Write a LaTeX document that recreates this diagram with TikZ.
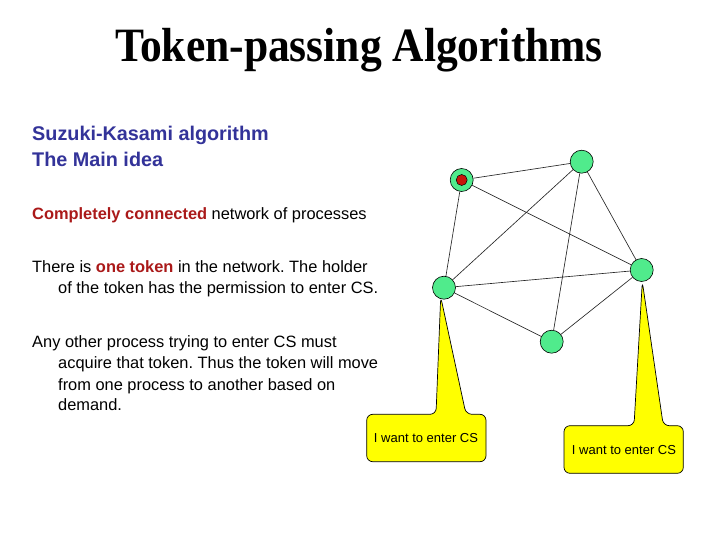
\documentclass[tikz,border=0pt]{standalone}
\usepackage{fontspec}
\setmainfont{Liberation Serif}
\newfontfamily\arial{Liberation Sans}
\frenchspacing
\definecolor{hblue}{RGB}{51,51,153}
\definecolor{hred}{RGB}{170,25,25}
\definecolor{ngreen}{RGB}{80,235,140}
\definecolor{tokred}{RGB}{200,20,10}
\definecolor{cyel}{RGB}{255,255,0}
\tikzset{
  txt/.style={anchor=base west, inner sep=0pt, font=\arial\fontsize{16.4}{20}\selectfont},
  head/.style={anchor=base west, inner sep=0pt, text=hblue, font=\arial\bfseries\fontsize{19.8}{22}\selectfont},
  proc/.style={circle, draw=black, fill=ngreen, minimum size=23pt, inner sep=0pt, line width=0.6pt},
  edge/.style={draw=black!85, line width=0.65pt},
  callout/.style={draw=black, fill=cyel, rounded corners=6pt, line width=0.7pt},
  ctext/.style={inner sep=0pt, font=\arial\fontsize{13}{15}\selectfont},
}
\newcommand{\hr}[1]{{\bfseries\color{hred}#1}}
\begin{document}
\begin{tikzpicture}[x=1pt,y=-1pt]
\useasboundingbox (0,0) rectangle (720,540);
% title
\node[anchor=base, inner sep=0pt, font=\bfseries\fontsize{43.5}{50}\selectfont] (title) at (359,61.7) {\scalebox{1}[1.1]{Token-passing Algorithms}};
% left text
\node[head] (h1) at (32,140.7) {Suzuki-Kasami algorithm};
\node[head] (h2) at (32,166.7) {The Main idea};
\node[txt] (t1) at (32,220) {\hr{Completely connected} network of processes};
\node[txt] (t2) at (32,272.7) {There is \hr{one token} in the network. The holder};
\node[txt] (t3) at (58,293.3) {of the token has the permission to enter CS.};
\node[txt] (t4) at (32,347) {Any other process trying to enter CS must};
\node[txt] (t5) at (58,368) {acquire that token. Thus the token will move};
\node[txt] (t6) at (58,390) {from one process to another based on};
\node[txt] (t7) at (58,410) {demand.};
% processes
\node[proc] (A) at (461.7,180) {};
\node[proc] (B) at (581.7,161.7) {};
\node[proc] (C) at (641.7,270) {};
\node[proc] (D) at (444,287.7) {};
\node[proc] (E) at (551.7,341.7) {};
\node[circle, draw=black, fill=tokred, minimum size=11pt, inner sep=0pt, line width=0.5pt] (tok) at (A) {};
% edges
\draw[edge] (A) -- (B);
\draw[edge] (A) -- (D);
\draw[edge] (A) -- (C);
\draw[edge] (B) -- (D);
\draw[edge] (B) -- (E);
\draw[edge] (B) -- (C);
\draw[edge] (D) -- (C);
\draw[edge] (D) -- (E);
\draw[edge] (E) -- (C);
% callouts
\coordinate (ltip) at (440.7,296.7);
\coordinate (rtip) at (642.3,281.5);
\draw[callout] (ltip) -- (466,414.3) -- (486,414.3) -- (486,461.7) -- (366.7,461.7) -- (366.7,414.3) -- (436,414.3) -- cycle;
\draw[callout] (rtip) -- (663.3,425.7) -- (683.3,425.7) -- (683.3,473.3) -- (564,473.3) -- (564,425.7) -- (634,425.7) -- cycle;
\node[ctext] (lc) at (426,438) {I want to enter CS};
\node[ctext] (rc) at (624,450) {I want to enter CS};
\end{tikzpicture}
\end{document}
